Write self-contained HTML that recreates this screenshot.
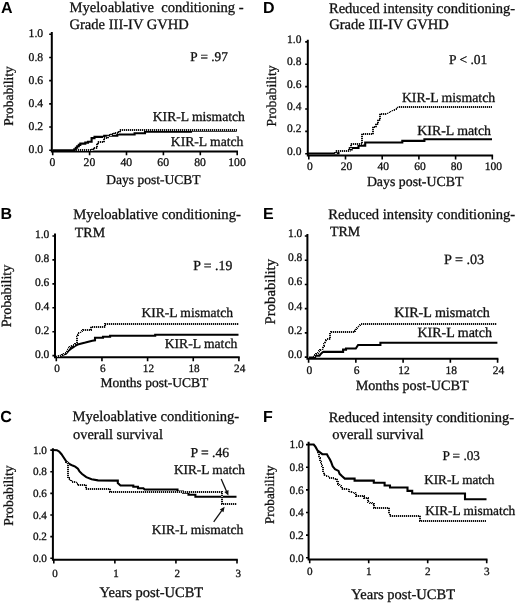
<!DOCTYPE html>
<html><head><meta charset="utf-8"><style>
html,body{margin:0;padding:0;background:#fff;}
svg{display:block;filter:grayscale(1);}
text{font-family:"Liberation Serif", serif;fill:#111;stroke:#111;stroke-width:0.3px;text-rendering:geometricPrecision;}
.yl{text-anchor:end;}
.xl{text-anchor:middle;}
.let{font-family:"Liberation Sans", sans-serif;font-weight:bold;font-size:16px;stroke:none;fill:#000;}
.yt{text-anchor:middle;}
.ax{stroke:#000;stroke-width:2;fill:none;}
.tk{stroke:#000;stroke-width:1.6;fill:none;}
.s{stroke:#000;stroke-width:2.1;fill:none;stroke-linejoin:miter;}
.mu{stroke:#c4c4c4;stroke-width:2;fill:none;shape-rendering:crispEdges;}
.m{stroke:#111;stroke-width:2;fill:none;stroke-dasharray:1 1;shape-rendering:crispEdges;}
</style></head><body>
<svg width="520" height="603" viewBox="0 0 520 603">
<path d="M51.8 31.9V152.3M50.9 151.4H238" class="ax"/>
<path d="M49.2 150.2H51.8M49.2 127.02H51.8M49.2 103.84H51.8M49.2 80.66H51.8M49.2 57.48H51.8M49.2 34.3H51.8M52.7 151.4V155.3M89.6 151.4V155.3M126.5 151.4V155.3M163.4 151.4V155.3M200.3 151.4V155.3M237.2 151.4V155.3" class="tk"/>
<text x="43.2" y="153.3" class="yl" font-size="11.7">0.0</text>
<text x="43.2" y="130.12" class="yl" font-size="11.7">0.2</text>
<text x="43.2" y="106.94" class="yl" font-size="11.7">0.4</text>
<text x="43.2" y="83.76" class="yl" font-size="11.7">0.6</text>
<text x="43.2" y="60.58" class="yl" font-size="11.7">0.8</text>
<text x="43.2" y="37.4" class="yl" font-size="11.7">1.0</text>
<text x="52.5" y="166.4" class="xl" font-size="11.7">0</text>
<text x="89.4" y="166.4" class="xl" font-size="11.7">20</text>
<text x="126.3" y="166.4" class="xl" font-size="11.7">40</text>
<text x="163.2" y="166.4" class="xl" font-size="11.7">60</text>
<text x="200.1" y="166.4" class="xl" font-size="11.7">80</text>
<text x="237" y="166.4" class="xl" font-size="11.7">100</text>
<text x="1" y="12.6" class="let">A</text>
<path d="M52.5 150.3 74.3 150.3 74.3 149.3 75.8 149.3 75.8 147.8 77.2 147.8 77.2 146.3 78.8 146.3 78.8 144.9 80.3 144.9 80.3 143.6 85.3 143.6 85.3 142.6 88 142.6 88 141.8 91.6 141.8 91.6 138.1 94.5 138.1 94.5 136.9 104.2 136.9 104.2 135.7 117.3 135.7 117.3 134.5 134.6 134.5 134.6 133.3 145 133.3 145 131.8 191 131.8 191 130.6 236.8 130.6" class="s"/>
<path d="M76 150 92 150 92 149 94 149 94 148 97 148 97 144 98 144 98 142 104 142 104 138 108 138 108 135 111 135 111 134 114 134 114 133 118 133 118 132 120 132 120 130 237 130" class="mu"/>
<path d="M76 150 92 150 92 149 94 149 94 148 97 148 97 144 98 144 98 142 104 142 104 138 108 138 108 135 111 135 111 134 114 134 114 133 118 133 118 132 120 132 120 130 237 130" class="m"/>
<path d="M55 233.5V358.2M54.1 357.3H239.7" class="ax"/>
<path d="M52.4 355.6H55M52.4 331.68H55M52.4 307.76H55M52.4 283.84H55M52.4 259.92H55M52.4 236H55M56.3 357.3V361.2M101.95 357.3V361.2M147.6 357.3V361.2M193.25 357.3V361.2M238.9 357.3V361.2" class="tk"/>
<text x="49.3" y="357.9" class="yl" font-size="11.5">0.0</text>
<text x="49.3" y="333.98" class="yl" font-size="11.5">0.2</text>
<text x="49.3" y="310.06" class="yl" font-size="11.5">0.4</text>
<text x="49.3" y="286.14" class="yl" font-size="11.5">0.6</text>
<text x="49.3" y="262.22" class="yl" font-size="11.5">0.8</text>
<text x="49.3" y="238.3" class="yl" font-size="11.5">1.0</text>
<text x="57.1" y="372.1" class="xl" font-size="11.2">0</text>
<text x="102.75" y="372.1" class="xl" font-size="11.2">6</text>
<text x="148.4" y="372.1" class="xl" font-size="11.2">12</text>
<text x="194.05" y="372.1" class="xl" font-size="11.2">18</text>
<text x="239.7" y="372.1" class="xl" font-size="11.2">24</text>
<text x="0.4" y="218.6" class="let">B</text>
<path d="M56 356.8 58 356.5 61.2 355.6 63.5 354.6 65.8 353.8 67 352.5 68.2 351 71 348.7 73 347.3 75.1 345.8 77.7 344.5 85.4 342.6 92.3 340.7 95 340.3 95 337.8 103 337.8 103 336.8 110.1 336.8 110.1 335.8 155.2 335.8 155.2 334.7 238.5 334.7" class="s"/>
<path d="M56 357 61 355 66 353 69 347 72 346 77 343 77 337 78 334 82 331 83 330 91 330 91 327 105 327 105 324 105 324 239 324" class="mu"/>
<path d="M56 357 61 355 66 353 69 347 72 346 77 343 77 337 78 334 82 331 83 330 91 330 91 327 105 327 105 324 105 324 239 324" class="m"/>
<path d="M52.9 448.2V560.6M52 559.7H237.8" class="ax"/>
<path d="M50.3 558.3H52.9M50.3 536.66H52.9M50.3 515.02H52.9M50.3 493.38H52.9M50.3 471.74H52.9M50.3 450.1H52.9M53.8 559.7V563.6M114.87 559.7V563.6M175.93 559.7V563.6M237 559.7V563.6" class="tk"/>
<text x="46.9" y="561.9" class="yl" font-size="11.2">0.0</text>
<text x="46.9" y="540.26" class="yl" font-size="11.2">0.2</text>
<text x="46.9" y="518.62" class="yl" font-size="11.2">0.4</text>
<text x="46.9" y="496.98" class="yl" font-size="11.2">0.6</text>
<text x="46.9" y="475.34" class="yl" font-size="11.2">0.8</text>
<text x="46.9" y="453.7" class="yl" font-size="11.2">1.0</text>
<text x="55" y="576.8" class="xl" font-size="11">0</text>
<text x="116.07" y="576.8" class="xl" font-size="11">1</text>
<text x="177.13" y="576.8" class="xl" font-size="11">2</text>
<text x="238.2" y="576.8" class="xl" font-size="11">3</text>
<text x="0.2" y="421.5" class="let">C</text>
<path d="M52.5 450 56.9 450.2 59.2 451.5 61.5 454.2 62.7 456 66.2 461.3 69.4 464 72.6 465.6 75.2 466.6 77.9 468.8 79.5 471.4 82.1 474 86.3 477.2 91.6 479.3 98 480.4 117.8 480.6 117.8 483 120.5 485.5 133.3 485.5 133.3 486.8 138 486.8 138 488.2 143.4 488.2 144.6 489.5 177.5 489.5 177.5 491.5 183 491.5 183 492.8 188.5 492.8 188.5 494.7 195.4 494.7 195.4 496.8 236.5 496.8" class="s"/>
<path d="M66 462 68 464 68 476 69 479 73 482 76 482 77 483 78 485 86 485 86 489 110 489 110 492 222 492 222 504 237 504" class="mu"/>
<path d="M66 462 68 464 68 476 69 479 73 482 76 482 77 483 78 485 86 485 86 489 110 489 110 492 222 492 222 504 237 504" class="m"/>
<path d="M221.20 479.10L226.60 491.48" stroke="#111" stroke-width="1.3" fill="none"/><path d="M228.40 495.60L224.29 491.94L228.51 490.10Z" fill="#111"/>
<path d="M213.70 521.80L221.95 510.44" stroke="#111" stroke-width="1.3" fill="none"/><path d="M224.60 506.80L223.52 512.20L219.80 509.49Z" fill="#111"/>
<path d="M307.8 39.7V156.4M306.9 155.5H493.1" class="ax"/>
<path d="M305.2 153.8H307.8M305.2 131.42H307.8M305.2 109.04H307.8M305.2 86.66H307.8M305.2 64.28H307.8M305.2 41.9H307.8M308.8 155.5V159.4M345.5 155.5V159.4M382.2 155.5V159.4M418.9 155.5V159.4M455.6 155.5V159.4M492.3 155.5V159.4" class="tk"/>
<text x="301.4" y="154.8" class="yl" font-size="11.5">0.0</text>
<text x="301.4" y="132.42" class="yl" font-size="11.5">0.2</text>
<text x="301.4" y="110.04" class="yl" font-size="11.5">0.4</text>
<text x="301.4" y="87.66" class="yl" font-size="11.5">0.6</text>
<text x="301.4" y="65.28" class="yl" font-size="11.5">0.8</text>
<text x="301.4" y="42.9" class="yl" font-size="11.5">1.0</text>
<text x="309.8" y="170.2" class="xl" font-size="11.5">0</text>
<text x="346.5" y="170.2" class="xl" font-size="11.5">20</text>
<text x="383.2" y="170.2" class="xl" font-size="11.5">40</text>
<text x="419.9" y="170.2" class="xl" font-size="11.5">60</text>
<text x="456.6" y="170.2" class="xl" font-size="11.5">80</text>
<text x="493.3" y="170.2" class="xl" font-size="11.5">100</text>
<text x="263" y="12.6" class="let">D</text>
<path d="M308 153.5 338.5 153.5 338.5 151 349.4 151 349.4 149.5 351.7 149.5 351.7 148 358.5 148 358.5 145.6 365.2 145.6 365.2 142.5 402.3 142.5 402.3 140.9 424.4 140.9 424.4 139.3 492 139.3" class="s"/>
<path d="M334 153 336 153 336 151 349 151 349 148 351 148 351 144 362 144 362 139 362 139 362 134 373 134 373 127 376 127 376 124 378 124 378 120 380 120 380 114 386 114 392 111 396 109 398 107 492 107" class="mu"/>
<path d="M334 153 336 153 336 151 349 151 349 148 351 148 351 144 362 144 362 139 362 139 362 134 373 134 373 127 376 127 376 124 378 124 378 120 380 120 380 114 386 114 392 111 396 109 398 107 492 107" class="m"/>
<path d="M307.4 234.1V359.7M306.5 358.8H498.4" class="ax"/>
<path d="M304.8 357.1H307.4M304.8 332.88H307.4M304.8 308.66H307.4M304.8 284.44H307.4M304.8 260.22H307.4M304.8 236H307.4M308.6 358.8V362.7M355.85 358.8V362.7M403.1 358.8V362.7M450.35 358.8V362.7M497.6 358.8V362.7" class="tk"/>
<text x="302.3" y="358.1" class="yl" font-size="11.5">0.0</text>
<text x="302.3" y="333.88" class="yl" font-size="11.5">0.2</text>
<text x="302.3" y="309.66" class="yl" font-size="11.5">0.4</text>
<text x="302.3" y="285.44" class="yl" font-size="11.5">0.6</text>
<text x="302.3" y="261.22" class="yl" font-size="11.5">0.8</text>
<text x="302.3" y="237" class="yl" font-size="11.5">1.0</text>
<text x="309.4" y="374.4" class="xl" font-size="11.5">0</text>
<text x="356.65" y="374.4" class="xl" font-size="11.5">6</text>
<text x="403.9" y="374.4" class="xl" font-size="11.5">12</text>
<text x="451.15" y="374.4" class="xl" font-size="11.5">18</text>
<text x="498.4" y="374.4" class="xl" font-size="11.5">24</text>
<text x="263.1" y="218.6" class="let">E</text>
<path d="M309 357.6 315.1 357.6 315.1 356 316.1 355.6 319.5 355.6 320.8 353.9 322.5 352.3 323.5 351.9 343.1 351.9 343.1 349.6 346 349.6 346 348.5 355.8 348.5 358.1 345 380.4 345 380.4 342.7 497.4 342.7" class="s"/>
<path d="M313 357 315 355 318 353 320 350 321 350 323 349 324 344 325 343 326 340 328 339 330 339 330 334 331 332 354 332 356 329 359 326 360 325 362 324 497 324" class="mu"/>
<path d="M313 357 315 355 318 353 320 350 321 350 323 349 324 344 325 343 326 340 328 339 330 339 330 334 331 332 354 332 356 329 359 326 360 325 362 324 497 324" class="m"/>
<path d="M308.6 441.8V560.3M307.7 559.4H487.5" class="ax"/>
<path d="M306 557.7H308.6M306 535.08H308.6M306 512.46H308.6M306 489.84H308.6M306 467.22H308.6M306 444.6H308.6M309.7 559.4V563.3M368.7 559.4V563.3M427.7 559.4V563.3M486.7 559.4V563.3" class="tk"/>
<text x="303.7" y="561.5" class="yl" font-size="11.3">0.0</text>
<text x="303.7" y="538.88" class="yl" font-size="11.3">0.2</text>
<text x="303.7" y="516.26" class="yl" font-size="11.3">0.4</text>
<text x="303.7" y="493.64" class="yl" font-size="11.3">0.6</text>
<text x="303.7" y="471.02" class="yl" font-size="11.3">0.8</text>
<text x="303.7" y="448.4" class="yl" font-size="11.3">1.0</text>
<text x="309.9" y="574.5" class="xl" font-size="11.2">0</text>
<text x="368.9" y="574.5" class="xl" font-size="11.2">1</text>
<text x="427.9" y="574.5" class="xl" font-size="11.2">2</text>
<text x="486.9" y="574.5" class="xl" font-size="11.2">3</text>
<text x="263.1" y="421.9" class="let">F</text>
<path d="M309 444.5 313.7 444.5 315.4 446.7 317.7 450.7 320 452.4 322.3 454.2 326.9 454.2 328.1 456.5 329.8 459.3 331 461.7 332.7 466.3 335 469.2 338.5 470.9 339.6 473.8 341.9 476.1 344.8 478.6 354.6 478.6 354.6 480.6 373.8 480.6 373.8 482.8 384.6 482.8 384.6 485.5 390 485.5 390 487.5 407.5 487.5 407.5 490.9 412.2 490.9 412.2 493.5 465 493.5 465 499.2 486.5 499.2" class="s"/>
<path d="M318 452 319 456 321 462 323 469 324 475 328 476 330 478 337 479 338 484 341 486 342 489 348 489 350 492 356 493 356 496 364 496 364 498 368 498 368 502 374 504 374 508 389 508 389 511 390 516 420 516 420 521 486 521" class="mu"/>
<path d="M318 452 319 456 321 462 323 469 324 475 328 476 330 478 337 479 338 484 341 486 342 489 348 489 350 492 356 493 356 496 364 496 364 498 368 498 368 502 374 504 374 508 389 508 389 511 390 516 420 516 420 521 486 521" class="m"/>
<text x="69.46" y="11.5" font-size="14.64">Myeloablative  conditioning -</text>
<text x="69.52" y="28.8" font-size="14.56">Grade III-IV GVHD</text>
<text x="190.3" y="61.2" font-size="13.23">P = .97</text>
<text x="152.79" y="120.9" font-size="13.60">KIR-L mismatch</text>
<text x="170.79" y="146.3" font-size="13.65">KIR-L match</text>
<text x="106.29" y="183.9" font-size="13.52">Days post-UCBT</text>
<text x="73.26" y="218.8" font-size="14.70">Myeloablative conditioning-</text>
<text x="74.82" y="236.5" font-size="13.96">TRM</text>
<text x="193.29" y="269.5" font-size="13.78">P = .19</text>
<text x="141.39" y="317.3" font-size="13.56">KIR-L mismatch</text>
<text x="164.69" y="347.7" font-size="13.65">KIR-L match</text>
<text x="100.59" y="386.8" font-size="13.51">Months post-UCBT</text>
<text x="72.46" y="421.2" font-size="14.62">Myeloablative conditioning-</text>
<text x="73.12" y="439" font-size="14.38">overall survival</text>
<text x="190.39" y="456.9" font-size="13.69">P = .46</text>
<text x="173.9" y="474.3" font-size="13.33">KIR-L match</text>
<text x="151.69" y="534.1" font-size="13.56">KIR-L mismatch</text>
<text x="99.56" y="596.9" font-size="14.50">Years post-UCBT</text>
<text x="328.96" y="12.5" font-size="14.52">Reduced intensity conditioning-</text>
<text x="329.22" y="29.4" font-size="14.59">Grade III-IV GVHD</text>
<text x="448.99" y="63.8" font-size="13.52">P &lt; .01</text>
<text x="401.89" y="101.8" font-size="13.79">KIR-L mismatch</text>
<text x="417.28" y="134.6" font-size="13.86">KIR-L match</text>
<text x="366.88" y="186.4" font-size="13.85">Days post-UCBT</text>
<text x="328.16" y="218.5" font-size="14.58">Reduced intensity conditioning-</text>
<text x="330.02" y="236.1" font-size="13.96">TRM</text>
<text x="443.97" y="263.8" font-size="14.21">P = .03</text>
<text x="394.28" y="316.9" font-size="14.11">KIR-L mismatch</text>
<text x="417.38" y="337.2" font-size="14.03">KIR-L match</text>
<text x="355.67" y="389.5" font-size="14.18">Months post-UCBT</text>
<text x="328.67" y="422" font-size="14.46">Reduced intensity conditioning-</text>
<text x="332.32" y="438.7" font-size="14.60">overall survival</text>
<text x="442.4" y="460.2" font-size="13.27">P = .03</text>
<text x="424.2" y="484.4" font-size="13.21">KIR-L match</text>
<text x="425.2" y="515.1" font-size="13.32">KIR-L mismatch</text>
<text x="351.35" y="599" font-size="14.51">Years post-UCBT</text>
<text transform="translate(13.06 96.07) rotate(-90)" class="yt" font-size="13.42">Probability</text>
<text transform="translate(11.32 296.03) rotate(-90)" class="yt" font-size="14.08">Probability</text>
<text transform="translate(13.19 495.57) rotate(-90)" class="yt" font-size="13.61">Probability</text>
<text transform="translate(275.8 95.93) rotate(-90)" class="yt" font-size="13.76">Probability</text>
<text transform="translate(274.97 291.69) rotate(-90)" class="yt" font-size="14.74">Probability</text>
<text transform="translate(274.41 494.67) rotate(-90)" class="yt" font-size="13.20">Probability</text>
</svg>
</body></html>
